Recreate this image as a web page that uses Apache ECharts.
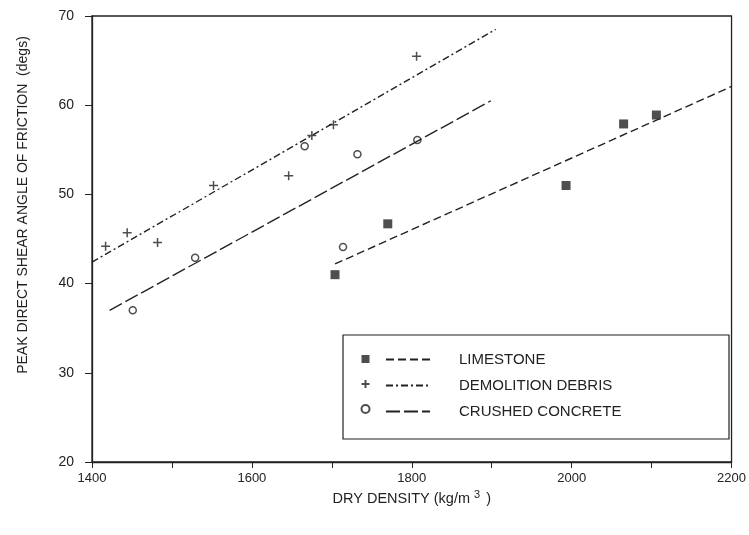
<!DOCTYPE html>
<html>
<head>
<meta charset="utf-8">
<script src="https://cdn.jsdelivr.net/npm/echarts@6/dist/echarts.min.js"></script>
<style>
html,body{margin:0;padding:0;background:#fff;}
#chart{width:749px;height:535px;}
</style>
</head>
<body>
<div id="chart"></div>
<script>
// ---- data ----
var seriesNames = ['LIMESTONE', 'DEMOLITION DEBRIS', 'CRUSHED CONCRETE'];
var limestone = [[1704, 41.0], [1770, 46.7], [1993, 51.0], [2065, 57.9], [2106, 58.9]];
var demolition = [[1417, 44.2], [1444, 45.7], [1482, 44.6], [1552, 51.0], [1646, 52.1], [1675, 56.6], [1702, 57.8], [1806, 65.5]];
var concrete = [[1451, 37.0], [1529, 42.9], [1666, 55.4], [1714, 44.1], [1732, 54.5], [1807, 56.1]];
var limestoneFit = [[1704, 42.2], [2200, 62.1]];
var demolitionFit = [[1400, 42.4], [1905, 68.5]];
var concreteFit = [[1422, 37.0], [1899, 60.5]];
var xTicks = [1400, 1600, 1800, 2000, 2200];
var yTicks = [20, 30, 40, 50, 60, 70];

var ink = '#222';
var fitSuffix = ' fit';

var chart = echarts.init(document.getElementById('chart'));
var option = {
  backgroundColor: '#fff',
  animation: false,
  textStyle: { fontFamily: 'Liberation Sans, Arial, sans-serif', color: ink },
  grid: { left: 92, right: 14, top: 16, bottom: 73, show: true, borderColor: ink, borderWidth: 1.3, backgroundColor: 'transparent' },
  xAxis: {
    type: 'value', min: xTicks[0], max: xTicks[xTicks.length - 1], interval: 100,
    name: '{a|DRY DENSITY (kg/m}{s|3}{a| )}', nameLocation: 'middle', nameGap: 26,
    nameTextStyle: { rich: { a: { fontSize: 14.5, color: ink }, s: { fontSize: 11, color: ink, verticalAlign: 'top', padding: [0, 2, 8, 4] } } },
    axisLine: { lineStyle: { color: ink, width: 1.3 } },
    axisTick: { show: true, length: 6, lineStyle: { color: ink } },
    axisLabel: { color: ink, fontSize: 13, margin: 10,
      formatter: function (v) { return xTicks.indexOf(v) >= 0 ? String(v) : ''; } },
    splitLine: { show: false }
  },
  yAxis: {
    type: 'value', min: yTicks[0], max: yTicks[yTicks.length - 1], interval: 10,
    name: 'PEAK DIRECT SHEAR ANGLE OF FRICTION  (degs)', nameLocation: 'middle', nameGap: 62,
    nameTextStyle: { fontSize: 14, color: ink, padding: [0, 0, 0, 68] },
    axisLine: { lineStyle: { color: ink, width: 1.3 } },
    axisTick: { show: true, length: 7, lineStyle: { color: ink } },
    axisLabel: { color: ink, fontSize: 14, margin: 18 },
    splitLine: { show: false }
  },
  legend: [
    {
      data: seriesNames, orient: 'vertical', left: 359, top: 352, padding: 0,
      itemWidth: 8, itemHeight: 8, itemGap: 11,
      textStyle: { fontSize: 12, lineHeight: 14, height: 14 },
      formatter: function () { return ' '; },
      selectedMode: false
    },
    {
      data: seriesNames.map(function (n) { return n + fitSuffix; }), orient: 'vertical', left: 385, top: 352, padding: 0,
      itemWidth: 44, itemHeight: 14, itemGap: 11,
      itemStyle: { opacity: 0 },
      formatter: function (n) { return n.replace(fitSuffix, ''); },
      textStyle: { fontSize: 15, color: ink, padding: [0, 0, 0, 24] },
      selectedMode: false
    }
  ],
  graphic: [
    { type: 'rect', shape: { x: 343, y: 335, width: 386, height: 104 }, style: { fill: 'none', stroke: ink, lineWidth: 1.2 }, z: 10 }
  ],
  series: [
    { name: seriesNames[0], type: 'scatter', data: limestone, symbol: 'rect', symbolSize: 9,
      itemStyle: { color: ink } },
    { name: seriesNames[1], type: 'scatter', data: demolition, symbol: 'path://M5,0 L5,10 M0,5 L10,5', symbolSize: 9,
      itemStyle: { color: 'none', borderColor: ink, borderWidth: 1.5 } },
    { name: seriesNames[2], type: 'scatter', data: concrete, symbol: 'circle', symbolSize: 7,
      itemStyle: { color: '#fff', borderColor: ink, borderWidth: 1.5 } },
    { name: seriesNames[0] + fitSuffix, type: 'line', data: limestoneFit, symbol: 'none',
      lineStyle: { color: ink, width: 1.4, type: [8, 4] }, itemStyle: { color: ink } },
    { name: seriesNames[1] + fitSuffix, type: 'line', data: demolitionFit, symbol: 'none',
      lineStyle: { color: ink, width: 1.4, type: [7, 3, 2, 3] }, itemStyle: { color: ink } },
    { name: seriesNames[2] + fitSuffix, type: 'line', data: concreteFit, symbol: 'none',
      lineStyle: { color: ink, width: 1.4, type: [14, 4] }, itemStyle: { color: ink } }
  ]
};
chart.setOption(option);
</script>
</body>
</html>
